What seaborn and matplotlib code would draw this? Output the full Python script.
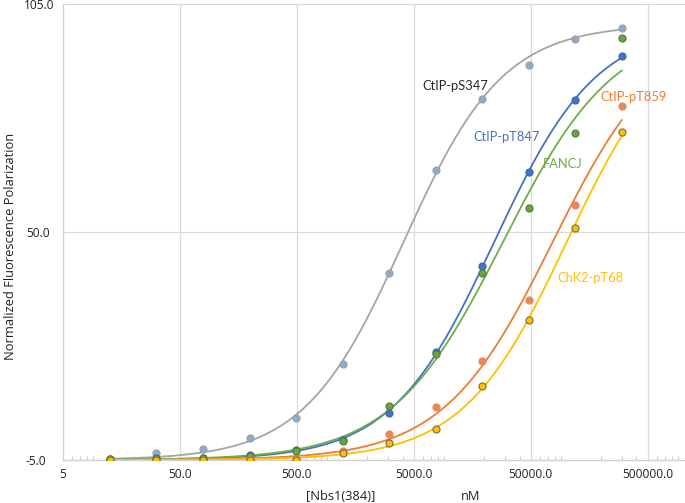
import numpy as np
import pandas as pd
import matplotlib
matplotlib.use("Agg")
import matplotlib.pyplot as plt
import matplotlib.ticker as mticker
from matplotlib.transforms import ScaledTranslation
import seaborn as sns

# ---- data ----
conc_nM = [12.58, 31.46, 78.64, 196.6, 491.5, 1228.8, 3072, 7680, 19200, 48000, 120000, 300000]
ctip_ps347 = [-4.8, -3.3, -2.35, 0.3, 5.1, 18.1, 40.1, 65.0, 82.0, 90.2, 96.4, 99.1]
ctip_pt847 = [-4.8, -4.6, -4.5, -3.8, -2.6, -0.2, 6.3, 21.0, 41.7, 64.3, 81.7, 92.3]
fancj = [-4.8, -4.7, -4.6, -4.0, -2.9, -0.4, 8.1, 20.6, 40.0, 55.7, 73.9, 96.8]
ctip_pt859 = [-5.0, -5.0, -4.9, -4.8, -4.7, -2.9, 1.3, 7.8, 18.8, 33.6, 56.5, 80.3]
chk2_pt68 = [-5.0, -4.9, -4.9, -4.9, -5.0, -3.4, -1.0, 2.5, 12.9, 28.7, 51.0, 74.0]

series_names = ["CtIP-pS347", "CtIP-pT847", "FANCJ", "CtIP-pT859", "ChK2-pT68"]
series_values = [ctip_ps347, ctip_pt847, fancj, ctip_pt859, chk2_pt68]
line_colors = ["#A5A5A5", "#4472C4", "#70AD47", "#ED7D31", "#FFC000"]
face_colors = ["#8FAAD0", "#4472C4", "#6AA244", "#E8875A", "#FFC000"]
edge_colors = ["#A0A0A0", "#3C66B0", "#4F7F33", "#E8875A", "#6E6E50"]
label_colors = ["#262626", "#4472C4", "#70AD47", "#ED7D31", "#FFC000"]
label_pos = [(11200, 85.1), (31200, 72.8), (93900, 66.3), (379500, 82.5), (163000, 38.9)]

y_ticks = [-5.0, 50.0, 105.0]
x_ticks = [5, 50, 500, 5000, 50000, 500000]
x_tick_labels = ["5", "50.0", "500.0", "5000.0", "50000.0", "500000.0"]

# plateaus of the dose-response fit
BOTTOM, TOP = -5.0, 100.0


def hill(x, logec50, n):
    return BOTTOM + (TOP - BOTTOM) / (1.0 + 10 ** ((logec50 - np.log10(x)) * n))


def fit(xs, ys):
    """Least-squares fit of EC50 and slope (grid search)."""
    xs = np.asarray(xs, float)
    ys = np.asarray(ys, float)
    lg = np.arange(1.0, 7.0, 0.005)
    nn = np.arange(0.5, 2.0, 0.01)
    L, N = np.meshgrid(lg, nn, indexing="ij")
    pred = BOTTOM + (TOP - BOTTOM) / (1.0 + 10 ** ((L[..., None] - np.log10(xs)) * N[..., None]))
    sse = ((pred - ys) ** 2).sum(-1)
    i, j = np.unravel_index(np.argmin(sse), sse.shape)
    return lg[i], nn[j]


rows_pts = []
rows_fit = []
xfine = np.logspace(np.log10(conc_nM[0]), np.log10(conc_nM[-1]), 300)
for name, vals in zip(series_names, series_values):
    for c, v in zip(conc_nM, vals):
        rows_pts.append({"conc": c, "fp": v, "series": name})
    le, n = fit(conc_nM, vals)
    for c in xfine:
        rows_fit.append({"conc": c, "fp": hill(c, le, n), "series": name})
pts = pd.DataFrame(rows_pts)
fits = pd.DataFrame(rows_fit)

sns.set_theme(style="white")
plt.rcParams["font.family"] = ["Open Sans", "DejaVu Sans"]

fig = plt.figure(figsize=(6.85, 5.03), dpi=100)
ax = fig.add_axes([63 / 685, 1 - 460 / 503, 1 - 63 / 685, (460 - 3.5) / 503])

pal = dict(zip(series_names, line_colors))
sns.lineplot(data=fits, x="conc", y="fp", hue="series", palette=pal,
             linewidth=1.3, legend=False, ax=ax, sort=False, estimator=None)
for name, fc, ec in zip(series_names, face_colors, edge_colors):
    sns.scatterplot(data=pts[pts.series == name], x="conc", y="fp", color=fc,
                    edgecolor=ec, linewidth=0.8, s=26, legend=False, ax=ax, zorder=5)

ax.set_xscale("log")
ax.set_xlim(5, 1.04e6)
ax.set_ylim(-5, 105)
ax.set_yticks(y_ticks)
ax.set_yticklabels([f"{v:.1f}" for v in y_ticks])
ax.set_xticks(x_ticks)
ax.set_xticklabels(x_tick_labels)
ax.xaxis.set_minor_locator(mticker.LogLocator(base=10, subs=np.arange(2, 10)))
ax.xaxis.set_minor_formatter(mticker.NullFormatter())
ax.tick_params(axis="both", which="major", labelsize=8.6, length=0, pad=6, colors="#222222")
ax.tick_params(axis="x", which="minor", direction="in", length=3, width=0.8,
               color="#D0D0D0", bottom=True)
ax.grid(True, which="major", color="#DADADA", linewidth=0.9)
ax.grid(False, which="minor")
for s in ["top", "right"]:
    ax.spines[s].set_visible(False)
for s in ["left", "bottom"]:
    ax.spines[s].set_color("#D0D0D0")
    ax.spines[s].set_linewidth(0.9)

ax.set_xlabel("")
ax.set_ylabel("")

# small per-label offsets of the y tick labels as in the reference
for lab, dx in zip(ax.get_yticklabels(), [-9, -5, 0]):
    lab.set_transform(lab.get_transform() + ScaledTranslation(dx / 100, 0, fig.dpi_scale_trans))

for name, col, (lx, ly) in zip(series_names, label_colors, label_pos):
    ax.text(lx, ly, name, color=col, fontsize=9.3, ha="center", va="center",
            family=["Lato", "DejaVu Sans"])

fig.text(11 / 685, 1 - 246 / 503, "Normalized Fluorescence Polarization", rotation=90,
         fontsize=9.3, ha="center", va="center", color="#222222")
fig.text(341 / 685, 1 - 496 / 503, "[Nbs1(384)]", fontsize=9.3, ha="center", va="center", color="#222222")
fig.text(471 / 685, 1 - 496 / 503, "nM", fontsize=9.3, ha="center", va="center", color="#222222")

fig.savefig("out.png", dpi=100)
